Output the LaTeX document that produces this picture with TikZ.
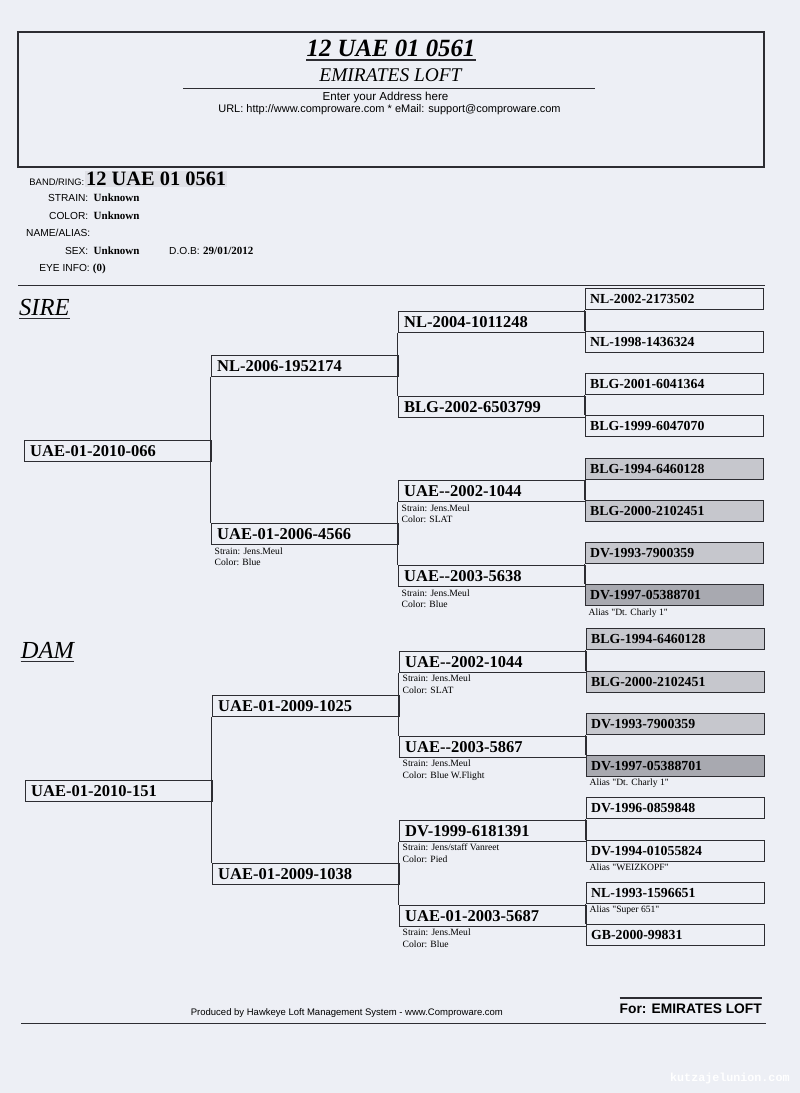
\documentclass[tikz,border=0pt]{standalone}
\usepackage{fontspec}
\setmainfont{Liberation Serif}[Ligatures=TeXOff]
\setsansfont{Liberation Sans}
\newfontfamily\markfont{Liberation Mono}
\definecolor{paper}{RGB}{237,239,245}
\definecolor{ink}{RGB}{45,45,50}
\definecolor{shadeA}{RGB}{198,199,205}
\definecolor{shadeB}{RGB}{168,169,176}
\definecolor{bandbg}{RGB}{224,225,231}
\newcommand\hh{-\kern0pt-}
\begin{document}
\begin{tikzpicture}[x=1pt,y=-1pt,
	box/.style={draw=ink,line width=1.4pt,anchor=north west,inner xsep=6pt,inner ysep=0pt,minimum height=21pt,text width=175pt,align=left,font=\fontsize{16.5}{18}\selectfont\bfseries},
	leaf/.style={box,inner xsep=5pt,text width=168pt,font=\fontsize{13.8}{15}\selectfont\bfseries},
	note/.style={anchor=north west,inner sep=0pt,align=left,font=\fontsize{9.6}{11.5}\selectfont},
	lab/.style={anchor=base east,inner sep=0pt,font=\sffamily\fontsize{10.2}{11}\selectfont},
	val/.style={anchor=base west,inner sep=0pt,font=\fontsize{11}{12}\selectfont\bfseries},
	link/.style={draw=ink,line width=1.4pt},
	rule/.style={draw=ink,line width=1.8pt}]
			\fill[paper] (0,0) rectangle (800,1093);
			\useasboundingbox (0,0) rectangle (800,1093);
			\draw[ink,line width=1.5pt] (18,32) rectangle (764,167);
			\node[inner sep=0pt,anchor=base,font=\fontsize{24.8}{28}\selectfont\bfseries\itshape] (title) at (391,56) {12 UAE 01 0561};
			\draw[ink,line width=1.6pt] ([yshift=-4pt]title.base west) -- ([yshift=-4pt]title.base east);
			\node[inner sep=0pt,anchor=base,font=\fontsize{19.4}{22}\selectfont\itshape] (loft) at (390.5,81.7) {EMIRATES LOFT};
			\draw[ink,line width=1.5pt] (183,88.3) -- (595,88.3);
			\node[inner sep=0pt,anchor=base,font=\sffamily\fontsize{11.6}{13}\selectfont] (addr) at (385.5,100.3) {Enter your Address here};
			\node[inner sep=0pt,anchor=base,font=\sffamily\fontsize{11}{13}\selectfont] (url) at (389.5,112.3) {URL: http://www.comproware.com * eMail: support@comproware.com};
			\node[lab,font=\sffamily\fontsize{9.4}{11}\selectfont] (bandlab) at (84.5,185.7) {BAND/RING:};
			\node[val,fill=bandbg,inner sep=1pt,font=\fontsize{20.4}{22}\selectfont\bfseries] (band) at (85,185.7) {12 UAE 01 0561};
			\node[lab] (strainlab) at (88.5,201.7) {STRAIN:};
			\node[val] (strain) at (93.5,201.7) {Unknown};
			\node[lab] (colorlab) at (88.5,219) {COLOR:};
			\node[val] (color) at (93.5,219) {Unknown};
			\node[lab] (namelab) at (90.5,236.7) {NAME/ALIAS:};
			\node[lab] (sexlab) at (88.5,254) {SEX:};
			\node[val] (sex) at (93.5,254) {Unknown};
			\node[lab] (doblab) at (200,254) {D.O.B:};
			\node[val] (dob) at (203,254) {29/01/2012};
			\node[lab] (eyelab) at (90,271.7) {EYE INFO:};
			\node[val] (eye) at (92.7,271.7) {(0)};
			\draw[rule] (18,285.5) -- (765,285.5);
			\node[inner sep=0pt,anchor=base west,font=\fontsize{24.5}{26}\selectfont\itshape] (sire) at (19,315.7) {SIRE};
			\draw[ink,line width=1pt] ([yshift=-3pt]sire.base west) -- ([yshift=-3pt]sire.base east);
			\node[box] (s1) at (23.5,440) {UAE-01-2010-066};
			\node[box] (s2a) at (210.5,355) {NL-2006-1952174};
			\node[box] (s2b) at (210.5,523) {UAE-01-2006-4566};
			\node[box] (s3a) at (397.5,311) {NL-2004-1011248};
			\node[box] (s3b) at (397.5,396) {BLG-2002-6503799};
			\node[box] (s3c) at (397.5,480) {UAE\hh2002-1044};
			\node[box] (s3d) at (397.5,565) {UAE\hh2003-5638};
			\node[leaf] (s4a) at (584.5,288) {NL-2002-2173502};
			\node[leaf] (s4b) at (584.5,331) {NL-1998-1436324};
			\node[leaf] (s4c) at (584.5,373) {BLG-2001-6041364};
			\node[leaf] (s4d) at (584.5,415) {BLG-1999-6047070};
			\node[leaf,fill=shadeA] (s4e) at (584.5,457.5) {BLG-1994-6460128};
			\node[leaf,fill=shadeA] (s4f) at (584.5,500) {BLG-2000-2102451};
			\node[leaf,fill=shadeA] (s4g) at (584.5,542) {DV-1993-7900359};
			\node[leaf,fill=shadeB] (s4h) at (584.5,584) {DV-1997-05388701};
			\node[note] (s2b-i) at ([xshift=4pt,yshift=-2pt]s2b.south west) {Strain: Jens.Meul\\Color: Blue};
			\node[note] (s3c-i) at ([xshift=4pt,yshift=-2pt]s3c.south west) {Strain: Jens.Meul\\Color: SLAT};
			\node[note] (s3d-i) at ([xshift=4pt,yshift=-2pt]s3d.south west) {Strain: Jens.Meul\\Color: Blue};
			\node[note] (s4h-i) at ([xshift=4pt,yshift=-2pt]s4h.south west) {Alias "Dt. Charly 1"};
			\draw[link] (s2a.south west) -- (s2b.north west);
			\draw[link] (s3a.south west) -- (s3b.north west);
			\draw[link] (s3c.south west) -- (s3d.north west);
			\draw[link] (s4a.south west) -- (s4b.north west);
			\draw[link] (s4c.south west) -- (s4d.north west);
			\draw[link] (s4e.south west) -- (s4f.north west);
			\draw[link] (s4g.south west) -- (s4h.north west);
			\node[inner sep=0pt,anchor=base west,font=\fontsize{24.5}{26}\selectfont\itshape] (dam) at (20.7,658.3) {DAM};
			\draw[ink,line width=1pt] ([yshift=-3pt]dam.base west) -- ([yshift=-3pt]dam.base east);
			\begin{scope}[xshift=1pt,yshift=-339.5pt]
			\node[box] (d1) at (23.5,440) {UAE-01-2010-151};
			\node[box] (d2a) at (210.5,355) {UAE-01-2009-1025};
			\node[box] (d2b) at (210.5,523) {UAE-01-2009-1038};
			\node[box] (d3a) at (397.5,311) {UAE\hh2002-1044};
			\node[box] (d3b) at (397.5,396) {UAE\hh2003-5867};
			\node[box] (d3c) at (397.5,480) {DV-1999-6181391};
			\node[box] (d3d) at (397.5,565) {UAE-01-2003-5687};
			\node[leaf,fill=shadeA] (d4a) at (584.5,288) {BLG-1994-6460128};
			\node[leaf,fill=shadeA] (d4b) at (584.5,331) {BLG-2000-2102451};
			\node[leaf,fill=shadeA] (d4c) at (584.5,373) {DV-1993-7900359};
			\node[leaf,fill=shadeB] (d4d) at (584.5,415) {DV-1997-05388701};
			\node[leaf] (d4e) at (584.5,457.5) {DV-1996-0859848};
			\node[leaf] (d4f) at (584.5,500) {DV-1994-01055824};
			\node[leaf] (d4g) at (584.5,542) {NL-1993-1596651};
			\node[leaf] (d4h) at (584.5,584) {GB-2000-99831};
			\node[note] (d3a-i) at ([xshift=4pt,yshift=-2pt]d3a.south west) {Strain: Jens.Meul\\Color: SLAT};
			\node[note] (d3b-i) at ([xshift=4pt,yshift=-2pt]d3b.south west) {Strain: Jens.Meul\\Color: Blue W.Flight};
			\node[note] (d3c-i) at ([xshift=4pt,yshift=-2pt]d3c.south west) {Strain: Jens/staff Vanreet\\Color: Pied};
			\node[note] (d3d-i) at ([xshift=4pt,yshift=-2pt]d3d.south west) {Strain: Jens.Meul\\Color: Blue};
			\node[note] (d4d-i) at ([xshift=4pt,yshift=-2pt]d4d.south west) {Alias "Dt. Charly 1"};
			\node[note] (d4f-i) at ([xshift=4pt,yshift=-2pt]d4f.south west) {Alias "WEIZKOPF"};
			\node[note] (d4g-i) at ([xshift=4pt,yshift=-2pt]d4g.south west) {Alias "Super 651"};
			\draw[link] (d2a.south west) -- (d2b.north west);
			\draw[link] (d3a.south west) -- (d3b.north west);
			\draw[link] (d3c.south west) -- (d3d.north west);
			\draw[link] (d4a.south west) -- (d4b.north west);
			\draw[link] (d4c.south west) -- (d4d.north west);
			\draw[link] (d4e.south west) -- (d4f.north west);
			\draw[link] (d4g.south west) -- (d4h.north west);
			\end{scope}
			\node[inner sep=0pt,anchor=base west,font=\sffamily\fontsize{9.5}{11}\selectfont] (made) at (190.7,1015) {Produced by Hawkeye Loft Management System - www.Comproware.com};
			\node[inner sep=0pt,anchor=base east,font=\sffamily\bfseries\fontsize{13.8}{15}\selectfont] (for) at (762,1013) {For: EMIRATES LOFT};
			\draw[rule] ([yshift=15pt]for.base west) -- ([yshift=15pt]for.base east);
			\draw[rule] (21,1023.5) -- (766,1023.5);
			\node[inner sep=0pt,anchor=base west,text=white,font=\markfont\bfseries\fontsize{11.7}{13}\selectfont] (mark) at (670,1081) {kutzajelunion.com};
\end{tikzpicture}
\end{document}
